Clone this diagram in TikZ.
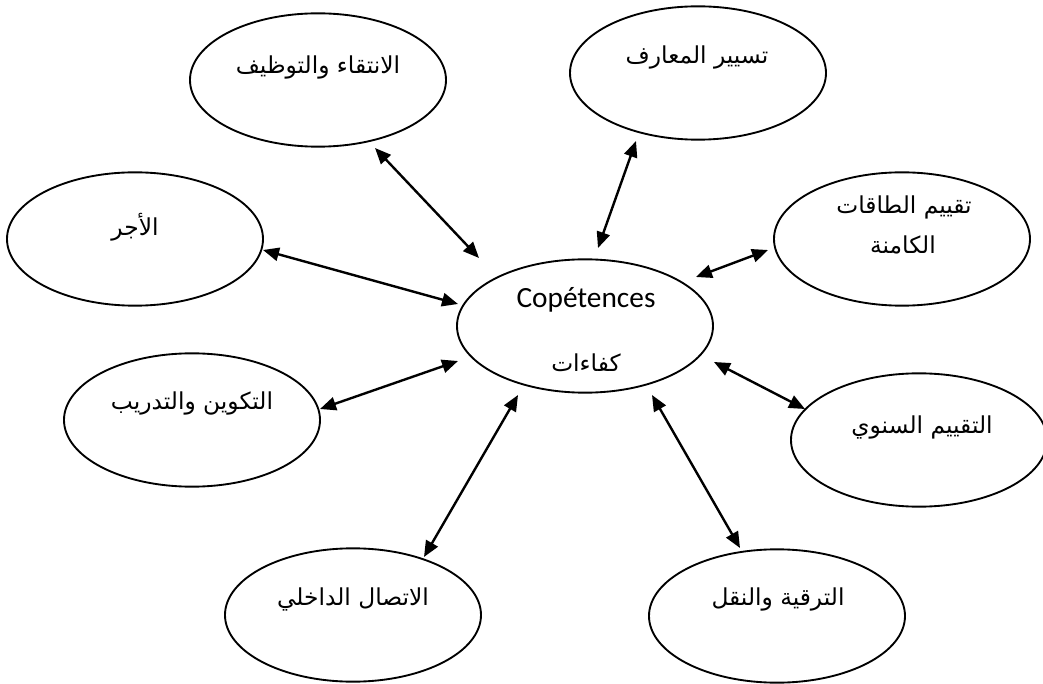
\documentclass[tikz,border=0pt]{standalone}
\usepackage{fontspec}
\setmainfont{Carlito}
\newfontfamily\arabicfont[Script=Arabic]{DejaVu Sans}
\TeXXeTstate=1
\usetikzlibrary{shapes.geometric,arrows.meta}
\tikzset{
  blob/.style={draw, line width=1.4pt, ellipse, inner sep=0pt,
    minimum width=192pt, minimum height=100pt},
  artext/.style={inner sep=0pt, font=\arabicfont\fontsize{17.5}{22}\selectfont, align=center},
  latext/.style={inner sep=0pt, font=\fontsize{22}{26}\selectfont},
  link/.style={line width=1.8pt,
    {Triangle[length=12pt,width=10pt]}-{Triangle[length=12pt,width=10pt]}}
}
\begin{document}
\begin{tikzpicture}[x=0.75pt,y=-0.75pt]
\useasboundingbox (0,0) rectangle (1043,684);

% ellipses
\node[blob] (sel)  at (318,80)  {};
\node[blob] (know) at (698,73)  {};
\node[blob] (pay)  at (135,239) {};
\node[blob] (pot)  at (902,239) {};
\node[blob] (comp) at (585,326) {};
\node[blob] (train) at (192,420) {};
\node[blob] (eval) at (919,440) {};
\node[blob] (comm) at (353,615) {};
\node[blob] (prom) at (777,616) {};

% labels
\node[artext] (tsel)  at (318,67)  {\beginR الانتقاء والتوظيف\endR};
\node[artext] (tknow) at (697,57)  {\beginR تسيير المعارف\endR};
\node[artext] (tpay)  at (135,227) {\beginR الأجر\endR};
\node[artext] (tpot1) at (904,207) {\beginR تقييم الطاقات\endR};
\node[artext] (tpot2) at (903,245) {\beginR الكامنة\endR};
\node[latext] (tcomp) at (586,300) {Copétences};
\node[artext] (tcomp2) at (586,363) {\beginR كفاءات\endR};
\node[artext] (ttrain) at (192,403) {\beginR التكوين والتدريب\endR};
\node[artext] (teval) at (922,427) {\beginR التقييم السنوي\endR};
\node[artext] (tcomm) at (353,599) {\beginR الاتصال الداخلي\endR};
\node[artext] (tprom) at (778,599) {\beginR الترقية والنقل\endR};

% connector end points
\coordinate (a1) at (375,148); \coordinate (a2) at (479,258);
\coordinate (b1) at (636,141); \coordinate (b2) at (598,248);
\coordinate (c1) at (263,250); \coordinate (c2) at (458,304);
\coordinate (d1) at (768,250); \coordinate (d2) at (696,277);
\coordinate (e1) at (714,362); \coordinate (e2) at (805,409);
\coordinate (f1) at (320,409); \coordinate (f2) at (458,361);
\coordinate (g1) at (652,395); \coordinate (g2) at (740,548);
\coordinate (h1) at (518,395); \coordinate (h2) at (424,557);

% connectors
\draw[link] (a1) -- (a2);
\draw[link] (b1) -- (b2);
\draw[link] (c1) -- (c2);
\draw[link] (d1) -- (d2);
\draw[link] (e1) -- (e2);
\draw[link] (f1) -- (f2);
\draw[link] (g1) -- (g2);
\draw[link] (h1) -- (h2);
\end{tikzpicture}
\end{document}
